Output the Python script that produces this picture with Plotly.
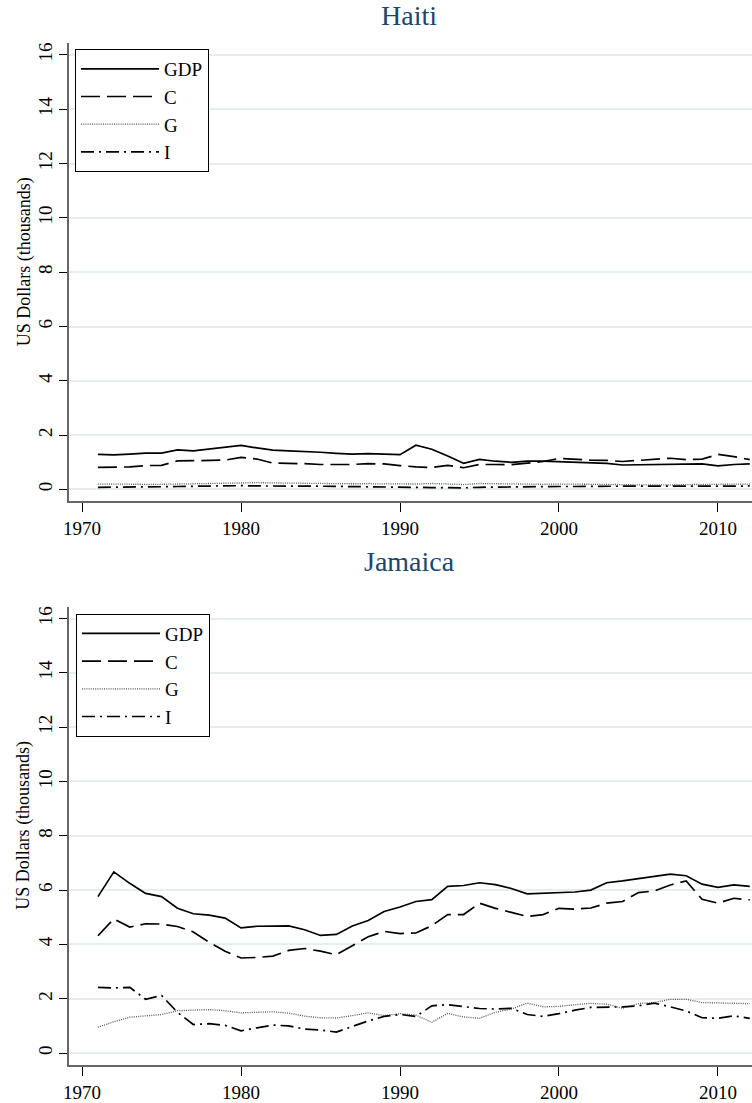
import plotly.graph_objects as go

years = list(range(1971, 2013))

haiti_gdp = [1.29, 1.27, 1.30, 1.34, 1.34, 1.46, 1.42, 1.48, 1.55, 1.62, 1.53, 1.45, 1.42, 1.40,
             1.37, 1.33, 1.30, 1.32, 1.31, 1.28, 1.63, 1.48, 1.23, 0.96, 1.11, 1.04, 1.00, 1.04,
             1.04, 1.02, 0.99, 0.98, 0.96, 0.90, 0.91, 0.92, 0.94, 0.94, 0.94, 0.87, 0.92, 0.94]
haiti_c = [0.81, 0.81, 0.83, 0.88, 0.89, 1.05, 1.06, 1.07, 1.08, 1.18, 1.12, 0.97, 0.97, 0.95,
           0.92, 0.92, 0.92, 0.95, 0.94, 0.88, 0.83, 0.81, 0.89, 0.80, 0.92, 0.92, 0.91, 0.97,
           1.03, 1.14, 1.10, 1.08, 1.07, 1.03, 1.07, 1.12, 1.15, 1.10, 1.12, 1.29, 1.21, 1.10]
haiti_g = [0.20, 0.19, 0.20, 0.19, 0.19, 0.20, 0.21, 0.22, 0.23, 0.25, 0.25, 0.24, 0.23, 0.23,
           0.22, 0.22, 0.21, 0.21, 0.20, 0.19, 0.20, 0.22, 0.20, 0.18, 0.22, 0.21, 0.20, 0.20,
           0.19, 0.20, 0.20, 0.19, 0.19, 0.18, 0.17, 0.16, 0.17, 0.18, 0.19, 0.20, 0.19, 0.20]
haiti_i = [0.08, 0.08, 0.09, 0.10, 0.10, 0.11, 0.12, 0.12, 0.13, 0.14, 0.13, 0.12, 0.12, 0.12,
           0.12, 0.11, 0.11, 0.10, 0.10, 0.09, 0.08, 0.07, 0.07, 0.06, 0.08, 0.09, 0.09, 0.10,
           0.10, 0.11, 0.11, 0.12, 0.12, 0.12, 0.12, 0.12, 0.11, 0.10, 0.10, 0.11, 0.12, 0.13]

jamaica_gdp = [5.76, 6.67, 6.25, 5.88, 5.76, 5.33, 5.13, 5.08, 4.97, 4.61, 4.67, 4.68, 4.68, 4.54,
               4.33, 4.37, 4.68, 4.88, 5.21, 5.38, 5.58, 5.65, 6.14, 6.17, 6.27, 6.20, 6.06, 5.86,
               5.88, 5.90, 5.93, 6.00, 6.27, 6.34, 6.42, 6.51, 6.59, 6.53, 6.22, 6.10, 6.19, 6.14]
jamaica_c = [4.32, 4.94, 4.64, 4.76, 4.75, 4.66, 4.46, 4.08, 3.75, 3.50, 3.52, 3.57, 3.78, 3.85,
             3.75, 3.62, 3.95, 4.28, 4.48, 4.40, 4.42, 4.69, 5.10, 5.10, 5.52, 5.33, 5.18, 5.03,
             5.10, 5.33, 5.30, 5.34, 5.52, 5.58, 5.91, 5.97, 6.19, 6.34, 5.66, 5.52, 5.70, 5.64]
jamaica_g = [0.95, 1.15, 1.32, 1.38, 1.42, 1.56, 1.57, 1.60, 1.56, 1.48, 1.50, 1.52, 1.47, 1.36,
             1.30, 1.29, 1.38, 1.48, 1.38, 1.45, 1.40, 1.13, 1.46, 1.33, 1.28, 1.50, 1.62, 1.84,
             1.70, 1.72, 1.78, 1.83, 1.80, 1.65, 1.82, 1.86, 1.98, 1.98, 1.86, 1.84, 1.84, 1.82]
jamaica_i = [2.42, 2.40, 2.42, 1.98, 2.12, 1.50, 1.05, 1.08, 1.02, 0.82, 0.93, 1.03, 1.00, 0.88,
             0.85, 0.77, 0.98, 1.18, 1.35, 1.42, 1.35, 1.74, 1.78, 1.72, 1.64, 1.62, 1.65, 1.42,
             1.35, 1.45, 1.58, 1.68, 1.68, 1.70, 1.74, 1.84, 1.70, 1.55, 1.30, 1.28, 1.37, 1.28]

series_names = ["GDP", "C", "G", "I"]
countries = ["Haiti", "Jamaica"]
y_ticks = [0, 2, 4, 6, 8, 10, 12, 14, 16]
x_ticks = [1970, 1980, 1990, 2000, 2010]
y_title = "US Dollars (thousands)"

FONT = "Liberation Serif"
styles = {
    "GDP": dict(color="black", width=1.7, dash="solid"),
    "C": dict(color="black", width=1.7, dash="19px,7px"),
    "G": dict(color="#555555", width=1.3, dash="1px,1.2px"),
    "I": dict(color="black", width=1.7, dash="13px,5px,2px,5px"),
}

data = {
    "Haiti": [haiti_gdp, haiti_c, haiti_g, haiti_i],
    "Jamaica": [jamaica_gdp, jamaica_c, jamaica_g, jamaica_i],
}

fig = go.Figure()
for k, country in enumerate(countries):
    sfx = "" if k == 0 else "2"
    for name, vals in zip(series_names, data[country]):
        fig.add_trace(go.Scatter(
            x=years, y=vals, mode="lines", name=name,
            line=styles[name],
            xaxis="x" + sfx, yaxis="y" + sfx,
            legend="legend" + sfx,
        ))

W, H = 752, 1103
ml, mr, mt, mb = 69, 0, 43, 30
ph = H - mt - mb
pw = W - ml - mr

def frac(py):
    return (H - mb - py) / ph

def xfrac(px):
    return (px - ml) / pw

common_x = dict(
    range=[1969.18, 2012.14], tickvals=x_ticks, showgrid=False, zeroline=False,
    showline=True, linecolor="#666666", linewidth=1.6, ticks="outside", ticklen=9,
    tickwidth=1.2, tickcolor="black", tickfont=dict(family=FONT, size=19, color="black"),
)
common_y = dict(
    range=[-0.44, 16.44], tickvals=y_ticks, showgrid=True, gridcolor="#e5eeee", gridwidth=1.5,
    zeroline=False, showline=True, linecolor="#666666", linewidth=1.6, ticks="outside",
    ticklen=8, tickwidth=1.2, tickcolor="black", tickangle=-90,
    tickfont=dict(family=FONT, size=19, color="black"),
)

legend_common = dict(
    bordercolor="black", borderwidth=1, bgcolor="white", itemwidth=78,
    font=dict(family=FONT, size=19, color="black"), xanchor="left", yanchor="top",
    tracegroupgap=0, entrywidth=140, entrywidthmode="pixels",
)

annotations = []
for country, ty, cy in [("Haiti", 15, 264), ("Jamaica", 566, 832)]:
    annotations.append(dict(
        text=country, x=xfrac(409), y=frac(ty), xref="paper", yref="paper",
        xanchor="center", yanchor="middle", showarrow=False,
        font=dict(family=FONT, size=28, color="#1a476f")))
    annotations.append(dict(
        text=y_title, x=xfrac(24), y=frac(cy), xref="paper", yref="paper",
        xanchor="center", yanchor="middle", textangle=-90, showarrow=False,
        font=dict(family=FONT, size=18, color="black")))

fig.update_layout(
    width=W, height=H,
    margin=dict(l=ml, r=mr, t=mt, b=mb),
    paper_bgcolor="white", plot_bgcolor="white",
    xaxis=dict(domain=[0, 1], anchor="y", **common_x),
    yaxis=dict(domain=[frac(505), 1.0], anchor="x", **common_y),
    xaxis2=dict(domain=[0, 1], anchor="y2", **common_x),
    yaxis2=dict(domain=[0, frac(611)], anchor="x2", **common_y),
    legend=dict(x=xfrac(75), y=frac(49), **legend_common),
    legend2=dict(x=xfrac(76), y=frac(618), **legend_common),
    annotations=annotations,
)

fig.write_html(
    "out.html",
    config={"displayModeBar": False},
    post_script="document.body.style.margin='0';document.body.style.overflow='hidden';",
)
